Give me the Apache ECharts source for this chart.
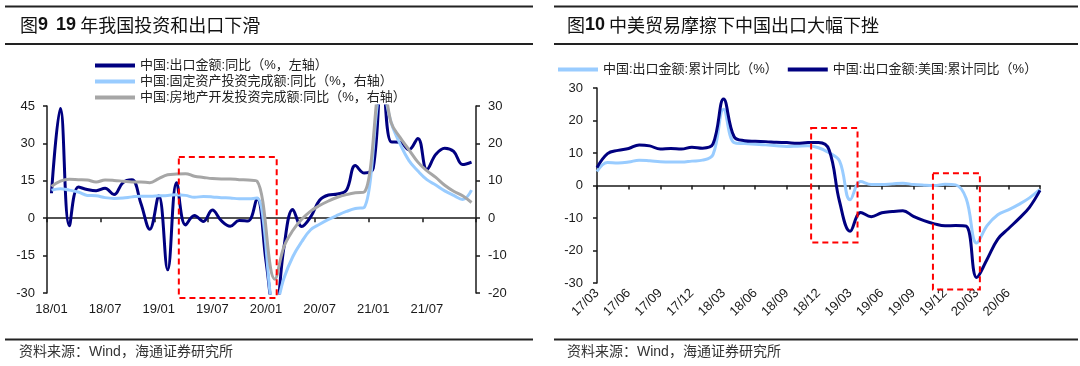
<!DOCTYPE html>
<html><head><meta charset="utf-8">
<script src="https://cdn.jsdelivr.net/npm/echarts@6/dist/echarts.min.js"></script>
<style>html,body{margin:0;padding:0;background:#fff}#c{width:1080px;height:366px}</style>
</head><body><div id="c"></div><script>
// ---------- Figure 9 data ----------
const leftMonths = ['18/01','18/02','18/03','18/04','18/05','18/06','18/07','18/08','18/09','18/10','18/11','18/12',
  '19/01','19/02','19/03','19/04','19/05','19/06','19/07','19/08','19/09','19/10','19/11','19/12',
  '20/01','20/02','20/03','20/04','20/05','20/06','20/07','20/08','20/09','20/10','20/11','20/12',
  '21/01','21/02','21/03','21/04','21/05','21/06','21/07','21/08','21/09','21/10','21/11','21/12'];
const exportYoY = [10, 44, -3, 12.5, 11.5, 11, 12, 9.5, 14.3, 15.4, 6, -4.4,
  9, -20.7, 14.2, -2.7, 1.1, -1.3, 3.3, -1, -3.2, -0.9, -1.1, 7.9,
  -17.2, -40.6, -12, 3.5, -3.3, 0.5, 7.2, 9.3, 9.7, 11.2, 21.1, 18.1,
  20, 60.6, 30.6, 30.5, 27.5, 32, 19.5, 25.6, 28.1, 26.8, 21.5, 22.5];
const faiYoY = [7.5, 7.9, 7.5, 7.0, 6.1, 6.0, 5.5, 5.3, 5.4, 5.7, 5.9, 5.9,
  6.0, 6.1, 6.3, 6.1, 5.6, 5.8, 5.7, 5.5, 5.4, 5.2, 5.2, 5.4,
  null, -24.5, -16.1, -10.3, -6.3, -3.1, -1.6, -0.3, 0.8, 1.8, 2.6, 2.9,
  null, 35.0, 25.6, 19.9, 15.4, 12.6, 10.3, 8.9, 7.3, 6.1, 5.0, 7.5];
const reYoY = [8.5, 9.9, 10.4, 10.3, 10.2, 9.7, 10.2, 10.1, 9.9, 9.7, 9.7, 9.5,
  10.6, 11.6, 11.8, 11.9, 11.2, 10.9, 10.6, 10.5, 10.5, 10.3, 10.2, 9.9,
  null, -16.3, -7.7, -3.3, -0.3, 1.9, 3.4, 4.6, 5.6, 6.3, 6.8, 7.0,
  null, 38.3, 25.6, 21.6, 18.3, 15.0, 12.7, 10.9, 8.8, 7.2, 6.0, 4.2];
const leftNames = ['中国:出口金额:同比（%，左轴）', '中国:固定资产投资完成额:同比（%，右轴）', '中国:房地产开发投资完成额:同比（%，右轴）'];
// annotation box: [fromIndex, toIndex, top value, bottom value] on left axis
const leftBoxes = [[14.25, 25.2, 24.5, -32]];

// ---------- Figure 10 data ----------
const rightMonths = ['17/03','17/04','17/05','17/06','17/07','17/08','17/09','17/10','17/11','17/12',
  '18/01','18/02','18/03','18/04','18/05','18/06','18/07','18/08','18/09','18/10','18/11','18/12',
  '19/01','19/02','19/03','19/04','19/05','19/06','19/07','19/08','19/09','19/10','19/11','19/12',
  '20/01','20/02','20/03','20/04','20/05','20/06','20/07','20/08','20/09'];
const totalCum = [4.3, 7.1, 6.9, 7.2, 7.8, 7.6, 7.3, 7.2, 7.2, 7.5, 7.8, 9.5, 23.5, 13.2, 12.9, 12.7, 12.5, 12.2, 12.0, 12.1, 12.2,
  11.6, 10.1, 7.5, -4.4, 1.2, 0.3, 0.3, 0.5, 0.7, 0.3, 0.1, 0.0, 0.4, 0.2, -4.0, -17.7, -12.3, -9.0, -7.5, -5.8, -3.8, -1.2];
const usCum = [5.5, 9.8, 10.8, 11.4, 12.5, 12.2, 11.2, 11.4, 11.2, 11.8, 11.5, 12.8, 26.6, 15.0, 13.8, 13.6, 13.5, 13.3, 13.2, 13.0, 13.2,
  13.2, 11.0, -5.0, -14.1, -8.3, -9.6, -8.4, -8.0, -7.8, -9.5, -10.8, -11.8, -12.4, -12.3, -12.5, -28.3, -22.6, -16.5, -13.3, -10.2, -6.7, -1.5];
const rightNames = ['中国:出口金额:累计同比（%）', '中国:出口金额:美国:累计同比（%）'];
const rightBoxes = [[20.3, 24.7, 17.7, -17.5], [31.85, 36.3, 3.8, -32]];

const leftYTicksL = [-30, 45, 15];
const leftYTicksR = [-20, 30, 10];
const rightYTicks = [-30, 30, 10];

// ---------- styles ----------
const CJK = '"Noto Sans CJK SC", sans-serif';
const MIX = '"Liberation Sans", "Noto Sans CJK SC", sans-serif';
const NAVY = '#000080', LBLUE = '#99ccff', GRAY = '#a6a6a6', INK = '#1a1a1a';
const axisLineStyle = {color: INK, width: 1.5};

const chart = echarts.init(document.getElementById('c'), null, {renderer: 'canvas'});

function yAxis(grid, pos, t) {
  return {type: 'value', gridIndex: grid, position: pos, min: t[0], max: t[1], interval: t[2],
    axisLine: {show: true, onZero: false, lineStyle: axisLineStyle},
    axisTick: {show: true, length: 4, lineStyle: axisLineStyle},
    splitLine: {show: false},
    axisLabel: {fontFamily: MIX, fontSize: 13, color: INK, margin: pos === 'right' ? 12 : (grid === 1 ? 14 : 12)}};
}
function line(name, data, xi, yi, color, z) {
  return {type: 'line', name, data, xAxisIndex: xi, yAxisIndex: yi, smooth: 0.4, symbol: 'none',
    connectNulls: true, z, lineStyle: {width: 3, color}, itemStyle: {color}, emphasis: {disabled: true}};
}
const titleRich = {
  z: {fontFamily: CJK, fontSize: 18, fontWeight: 'normal', color: '#111'},
  n: {fontFamily: MIX, fontSize: 18, fontWeight: 'bold', color: '#111'}
};

chart.setOption({
  animation: false,
  backgroundColor: '#fff',
  title: [
    {text: '{z|图}{n|9}{z|  }{n|19}{z| 年我国投资和出口下滑}', left: 20, top: 16, padding: 0,
      textStyle: {fontWeight: 'normal', rich: titleRich}},
    {text: '{z|图}{n|10}{z| 中美贸易摩擦下中国出口大幅下挫}', left: 567, top: 16, padding: 0,
      textStyle: {fontWeight: 'normal', rich: titleRich}},
    {text: '资料来源：Wind，海通证券研究所', left: 19, top: 345, padding: 0,
      textStyle: {fontFamily: MIX, fontSize: 14, fontWeight: 'normal', color: '#333'}},
    {text: '资料来源：Wind，海通证券研究所', left: 567, top: 345, padding: 0,
      textStyle: {fontFamily: MIX, fontSize: 14, fontWeight: 'normal', color: '#333'}}
  ],
  legend: [
    {data: leftNames, orient: 'vertical', left: 95, top: 59, padding: 0, itemWidth: 40, itemHeight: 4, itemGap: 3,
      icon: 'rect', textStyle: {fontFamily: MIX, fontSize: 13, color: '#222', lineHeight: 13}},
    {data: rightNames, orient: 'horizontal', left: 558, top: 63, padding: 0, itemWidth: 40, itemHeight: 4, itemGap: 10,
      icon: 'rect', textStyle: {fontFamily: MIX, fontSize: 13, color: '#222', lineHeight: 13}}
  ],
  grid: [
    {left: 47, top: 106, width: 429, height: 187},
    {left: 597, top: 88, width: 443, height: 195}
  ],
  xAxis: [
    {type: 'category', gridIndex: 0, data: leftMonths, boundaryGap: true, position: 'bottom',
      axisLine: {show: true, onZero: true, onZeroAxisIndex: 0, lineStyle: axisLineStyle},
      axisTick: {show: true, interval: 5, length: 4, lineStyle: axisLineStyle},
      axisLabel: {show: false}, splitLine: {show: false}},
    {type: 'category', gridIndex: 0, data: leftMonths, boundaryGap: true, position: 'bottom',
      axisLine: {show: false, onZero: false}, axisTick: {show: false}, splitLine: {show: false},
      axisLabel: {interval: 5, margin: 10, fontFamily: MIX, fontSize: 13, color: INK}},
    {type: 'category', gridIndex: 1, data: rightMonths, boundaryGap: false, position: 'bottom',
      axisLine: {show: true, onZero: true, onZeroAxisIndex: 2, lineStyle: axisLineStyle},
      axisTick: {show: true, interval: 2, length: 4, lineStyle: axisLineStyle},
      axisLabel: {show: false}, splitLine: {show: false}},
    {type: 'category', gridIndex: 1, data: rightMonths, boundaryGap: false, position: 'bottom',
      axisLine: {show: false, onZero: false}, axisTick: {show: false}, splitLine: {show: false},
      axisLabel: {interval: (i) => i % 3 === 0 && i < rightMonths.length - 1, rotate: 45, margin: 8,
        fontFamily: MIX, fontSize: 13, color: INK}}
  ],
  yAxis: [yAxis(0, 'left', leftYTicksL), yAxis(0, 'right', leftYTicksR), yAxis(1, 'left', rightYTicks)],
  series: [
    line(leftNames[0], exportYoY, 0, 0, NAVY, 3),
    line(leftNames[1], faiYoY, 0, 1, LBLUE, 4),
    line(leftNames[2], reYoY, 0, 1, GRAY, 5),
    line(rightNames[0], totalCum, 2, 2, LBLUE, 3),
    line(rightNames[1], usCum, 2, 2, NAVY, 4)
  ]
});

// rules and dashed annotation boxes (positioned through the chart's own axes)
function boxes(list, xi, yi) {
  const x0 = chart.convertToPixel({xAxisIndex: xi}, 0);
  const x1 = chart.convertToPixel({xAxisIndex: xi}, 1);
  return list.map(b => {
    const xa = x0 + (x1 - x0) * b[0], xb = x0 + (x1 - x0) * b[1];
    const ya = chart.convertToPixel({yAxisIndex: yi}, b[2]), yb = chart.convertToPixel({yAxisIndex: yi}, b[3]);
    return {type: 'rect', shape: {x: xa, y: ya, width: xb - xa, height: yb - ya}, z: 50,
      style: {fill: null, stroke: '#ff0000', lineWidth: 2, lineDash: [6, 4]}};
  });
}
function rule(x1, x2, y) {
  return {type: 'line', shape: {x1, y1: y, x2, y2: y}, style: {stroke: '#222', lineWidth: 2}, z: 1};
}
chart.setOption({graphic: [
  rule(5, 533, 6.5), rule(5, 533, 44), rule(5, 533, 339.5),
  rule(554, 1078, 6.5), rule(554, 1078, 44), rule(554, 1078, 339.5),
  ...boxes(leftBoxes, 0, 0), ...boxes(rightBoxes, 2, 2)
]});
</script></body></html>
